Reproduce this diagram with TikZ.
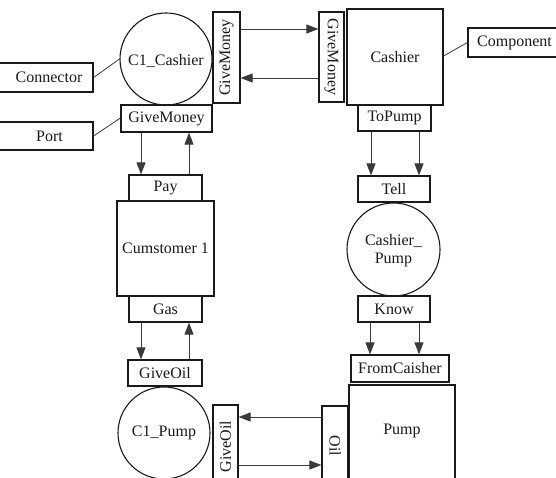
\documentclass[tikz,border=0pt]{standalone}
\usepackage{fontspec}
\setmainfont{Liberation Serif}
\usetikzlibrary{arrows.meta}
\definecolor{ink}{HTML}{1A1A1A}
\definecolor{wire}{HTML}{3A3A3A}
\tikzset{
  box/.style={draw=ink, line width=1.2pt, inner sep=0pt, text=ink, fill=white},
  roundbox/.style={draw=ink, line width=1.1pt, circle, inner sep=0pt, text=ink, align=center},
  txt/.style={inner sep=0pt, text=ink},
  flow/.style={draw=wire, line width=0.9pt, -{Triangle[length=12pt,width=9pt]}},
  tag/.style={draw=wire, line width=0.8pt},
}
\begin{document}
\begin{tikzpicture}[x=1pt, y=-1pt, font=\fontsize{16}{18}\selectfont]
\useasboundingbox (0,0) rectangle (556,478);
\clip (0,0) rectangle (556,478);

% ---------- left column ----------
\node[roundbox, minimum size=92pt] (c1cash) at (166,59) {};
\node[txt] (c1cashT) at (166,61) {C1\_Cashier};
\node[box, minimum width=27pt, minimum height=91pt] (gmL) at (226.5,57.5) {\rotatebox{90}{GiveMoney}};
\node[box, minimum width=91pt, minimum height=27pt] (gmH) at (166.5,118.5) {GiveMoney};
\node[box, minimum width=73pt, minimum height=26pt] (pay) at (165.5,188) {Pay};
\node[box, minimum width=97pt, minimum height=95pt] (cust) at (165.5,248.5) {Cumstomer 1};
\node[box, minimum width=73pt, minimum height=26pt] (gas) at (165.5,309) {Gas};
\node[box, minimum width=74pt, minimum height=26pt] (giveoil) at (165,373) {GiveOil};
\node[roundbox, minimum size=92pt] (c1pump) at (164,433) {C1\_Pump};
\node[box, minimum width=25pt, minimum height=83pt] (goV) at (225.5,446.5) {\rotatebox{90}{GiveOil}};

% ---------- legend boxes (open beyond the page edges) ----------
\node[box, minimum width=150pt, minimum height=29pt] (conn) at (18,77.5) {};
\node[txt] (connT) at (49,77.5) {Connector};
\node[box, minimum width=150pt, minimum height=28pt] (port) at (18,136) {};
\node[txt] (portT) at (49.5,136) {Port};
\node[box, minimum width=140pt, minimum height=29pt] (comp) at (538,42.5) {};
\node[txt] (compT) at (514.5,42.5) {Component};

% ---------- right column ----------
\node[box, minimum width=25pt, minimum height=90pt] (gmR) at (331.5,57) {\rotatebox{-90}{GiveMoney}};
\node[box, minimum width=96pt, minimum height=96pt] (cashier) at (395,57) {Cashier};
\node[box, minimum width=73pt, minimum height=26pt] (topump) at (394.5,118) {ToPump};
\node[box, minimum width=72pt, minimum height=26pt] (tell) at (394,189) {Tell};
\node[roundbox, minimum size=93pt] (cpump) at (393.5,249.5) {};
\node[txt, align=center] (cpumpT) at (393.5,251) {Cashier\_\\Pump};
\node[box, minimum width=72pt, minimum height=26pt] (know) at (394,309) {Know};
\node[box, minimum width=98pt, minimum height=27pt] (fromc) at (400,368.5) {FromCaisher};
\node[box, minimum width=106pt, minimum height=110pt] (pump) at (402,440) {};
\node[txt] (pumpT) at (402,431) {Pump};
\node[box, minimum width=26pt, minimum height=80pt] (oil) at (335,446) {\rotatebox{-90}{Oil}};

% ---------- legend leaders ----------
\draw[tag] (conn.east) -- (c1cash.west);
\draw[tag] (port.east) -- (gmH.west |- 0,118);
\draw[tag] (cashier.east |- 0,56) -- (comp.west);

% ---------- message flows ----------
\draw[flow] (gmL.east |- 0,29) -- (gmR.west |- 0,29);
\draw[flow] (gmR.west |- 0,78) -- (gmL.east |- 0,78);
\draw[flow] (gmH.south -| 141,0) -- (pay.north -| 141,0);
\draw[flow] (pay.north -| 189,0) -- (gmH.south -| 189,0);
\draw[flow] (topump.south -| 371,0) -- (tell.north -| 371,0);
\draw[flow] (topump.south -| 419,0) -- (tell.north -| 419,0);
\draw[flow] (know.south -| 370,0) -- (fromc.north -| 370,0);
\draw[flow] (know.south -| 419,0) -- (fromc.north -| 419,0);
\draw[flow] (gas.south -| 141,0) -- (giveoil.north -| 141,0);
\draw[flow] (giveoil.north -| 189,0) -- (gas.south -| 189,0);
\draw[flow] (oil.west |- 0,417) -- (goV.east |- 0,417);
\draw[flow] (goV.east |- 0,465) -- (oil.west |- 0,465);
\end{tikzpicture}
\end{document}
